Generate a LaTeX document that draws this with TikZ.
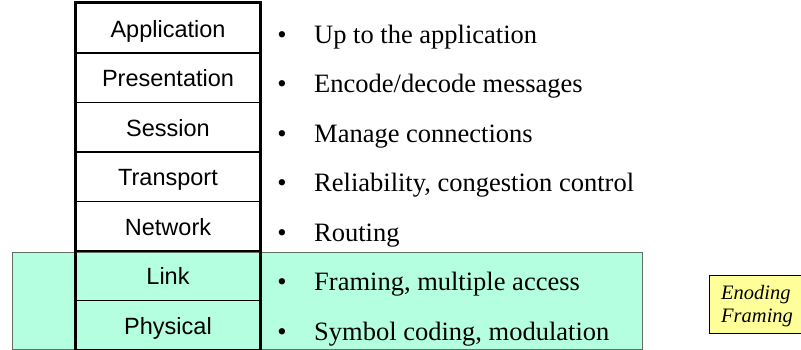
\documentclass[tikz,border=0pt]{standalone}
\usepackage{fontspec}
\setmainfont{Liberation Serif}
\newfontfamily\arialfont{Liberation Sans}
\definecolor{linkgreen}{RGB}{180,255,224}
\definecolor{greenedge}{RGB}{100,110,105}
\definecolor{noteyellow}{RGB}{255,255,153}
\tikzset{
  layer/.style={draw=black, line width=1.2pt, minimum width=184pt, minimum height=49.5pt,
    inner sep=0pt, text height=18pt, text depth=0pt,
    font=\arialfont\fontsize{23.5}{26}\selectfont, anchor=center},
  bullettext/.style={anchor=base west, inner sep=0pt, font=\fontsize{26.5}{30}\selectfont},
  bulletdot/.style={anchor=base, inner sep=0pt, font=\fontsize{26.5}{30}\selectfont},
  notetxt/.style={anchor=base west, inner sep=0pt, font=\itshape\fontsize{20.5}{22.5}\selectfont},
}
\begin{document}
\begin{tikzpicture}[x=1pt,y=-1pt]
\useasboundingbox (0,0) rectangle (801,350);
\clip (0,0) rectangle (801,350);
% green band
\node[draw=greenedge, line width=1.2pt, fill=linkgreen, minimum width=630pt, minimum height=97pt,
  inner sep=0pt, anchor=north west] (band) at (12,251.5) {};
% layers
\foreach \i/\nm/\lab in {0/app/Application,1/pres/Presentation,2/sess/Session,3/trans/Transport,4/net/Network,5/link/Link,6/phys/Physical}{
  \node[layer] (\nm) at (168,{3.5+49.5*(\i+0.5)}) {\lab};
}
% outer thick frame
\draw[line width=3pt, line cap=rect] (phys.south west) -- (app.north west) -- (app.north east) -- (phys.south east);
% bullets
\foreach \i/\txt in {0/{Up to the application},1/{Encode/decode messages},2/{Manage connections},3/{Reliability, congestion control},4/{Routing},5/{Framing, multiple access},6/{Symbol coding, modulation}}{
  \node[bulletdot] (dot\i) at (282,{3.5+49.5*(\i+0.5)+15}) {\textbullet};
  \node[bullettext] (item\i) at (314,{3.5+49.5*(\i+0.5)+15}) {\txt};
}
% yellow note
\node[draw=black, line width=0.8pt, fill=noteyellow, minimum width=100pt, minimum height=58pt,
  inner sep=0pt, anchor=north west] (note) at (709,275) {};
\node[notetxt] (note1) at (721,299) {Enoding};
\node[notetxt] (note2) at (721,322) {Framing};
\end{tikzpicture}
\end{document}
